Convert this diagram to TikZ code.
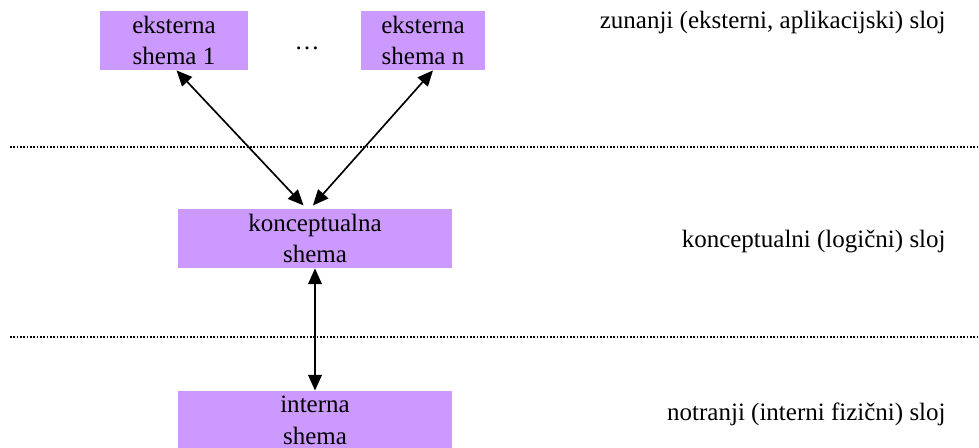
\documentclass[tikz,border=0pt]{standalone}
\usepackage{fontspec}
\setmainfont{Liberation Serif}
\usetikzlibrary{arrows.meta}
\definecolor{schemafill}{HTML}{CC99FF}

\begin{document}
\begin{tikzpicture}[x=0.48pt,y=-0.48pt,
  schemabox/.style={fill=schemafill,inner sep=0pt,minimum height=28.3pt,
    align=center,font=\fontsize{12}{15.3}\selectfont},
  layerlabel/.style={anchor=east,inner sep=0pt,font=\fontsize{12}{15.3}\selectfont},
  layerline/.style={line width=0.5pt,dash pattern=on 0.8pt off 0.8pt},
  link/.style={line width=0.8pt,{Triangle[length=7.5pt,width=6.5pt]}-{Triangle[length=7.5pt,width=6.5pt]}}]
  \useasboundingbox (0,0) rectangle (979,448);
  % schemas
  \node[schemabox,minimum width=71pt] (ext1) at (174,40.5) {eksterna\\shema 1};
  \node[schemabox,minimum width=59.5pt] (extn) at (423,40.5) {eksterna\\shema n};
  \node[font=\fontsize{12}{15.3}\selectfont] (dots) at (307,48) {\ldots};
  \node[schemabox,minimum width=131.5pt] (konc) at (315,238.5) {konceptualna\\shema};
  \node[schemabox,minimum width=131.5pt] (intr) at (315,420.5) {interna\\shema};
  % layers
  \node[layerlabel] (extlayer) at (946,22) {zunanji (eksterni, aplikacijski) sloj};
  \node[layerlabel] (konclayer) at (946,242) {konceptualni (logični) sloj};
  \node[layerlabel] (intlayer) at (946,414) {notranji (interni fizični) sloj};
  \coordinate (top west) at (10,147);
  \coordinate (top east) at (977,147);
  \coordinate (bottom west) at (10,337);
  \coordinate (bottom east) at (977,337);
  \draw[layerline] (top west) -- (top east);
  \draw[layerline] (bottom west) -- (bottom east);
  % mappings
  \draw[link] ([xshift=1.2pt]ext1.south) -- ([xshift=-5.5pt,yshift=1.5pt]konc.north);
  \draw[link] ([xshift=4.8pt]extn.south) -- ([xshift=-1pt,yshift=1.5pt]konc.north);
  \draw[link] (konc.south) -- (intr.north);
\end{tikzpicture}
\end{document}
